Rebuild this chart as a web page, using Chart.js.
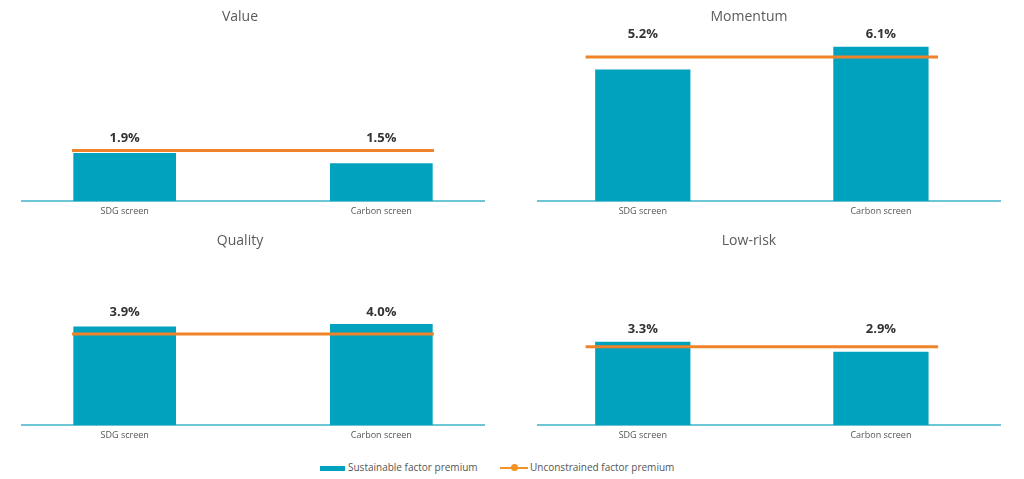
<!DOCTYPE html>
<html>
<head>
<meta charset="utf-8">
<script src="https://cdn.jsdelivr.net/npm/chart.js@4.4.1/dist/chart.umd.min.js"></script>
<style>
  body { margin: 0; background: #fff; font-family: "Open Sans", sans-serif; }
  #wrap { position: relative; width: 1024px; height: 479px; overflow: hidden; }
  .panel { position: absolute; width: 512px; height: 224px; }
  #legend { position: absolute; top: 459px; left: 0; width: 1024px; font-size: 10px; color: #555; }
  .item { position: absolute; top: 0; line-height: 16px; white-space: nowrap; }
  .swatch { display: inline-block; vertical-align: middle; }
</style>
</head>
<body>
<div id="wrap">
  <div class="panel" style="left:0;top:0"><canvas id="c0" width="512" height="224"></canvas></div>
  <div class="panel" style="left:512px;top:0"><canvas id="c1" width="512" height="224"></canvas></div>
  <div class="panel" style="left:0;top:224px"><canvas id="c2" width="512" height="224"></canvas></div>
  <div class="panel" style="left:512px;top:224px"><canvas id="c3" width="512" height="224"></canvas></div>
  <div id="legend">
    <div class="item" style="left:320px"><span class="swatch" style="width:25px;height:5px;background:#00a2be;margin-right:3px"></span>Sustainable factor premium</div>
    <div class="item" style="left:500px"><span class="swatch" style="position:relative;width:28px;height:2px;background:#f29222;margin-right:2px"><span style="position:absolute;left:11px;top:-3px;width:7px;height:7px;border-radius:50%;background:#f29222"></span></span>Unconstrained factor premium</div>
  </div>
</div>
<script>
// data (%)
const panelTitles = ['Value', 'Momentum', 'Quality', 'Low-risk'];
const categories = ['SDG screen', 'Carbon screen'];
const sustainablePremium = [[1.9, 1.5], [5.2, 6.1], [3.9, 4.0], [3.3, 2.9]];
const unconstrainedPremium = [2.0, 5.7, 3.6, 3.1];

const teal = '#00a2be';
const orange = '#f0832a';

// layout per column (left / right)
const columns = [
  { padLeft: 22, padRight: 28, xMin: -0.4, xMax: 1.4, lineExt: 0.205, titleShift: -13 },
  { padLeft: 26, padRight: 24, xMin: -0.44, xMax: 1.5, lineExt: 0.24, titleShift: -20 }
];

const panelText = {
  id: 'panelText',
  afterDatasetsDraw(chart, args, opts) {
    const ctx = chart.ctx, area = chart.chartArea;
    const xs = chart.scales.x, ys = chart.scales.y;
    ctx.save();
    ctx.textAlign = 'center';
    ctx.textBaseline = 'middle';
    ctx.fillStyle = '#5a5a5a';
    ctx.font = '14px "Open Sans"';
    ctx.fillText(opts.title, (area.left + area.right) / 2 + opts.titleShift, 17);
    const top = Math.max(...opts.values, opts.line);
    ctx.fillStyle = '#333';
    ctx.font = 'bold 13px "Open Sans"';
    opts.values.forEach((v, i) => {
      ctx.fillText(v.toFixed(1) + '%', xs.getPixelForValue(i), ys.getPixelForValue(top) - 12);
    });
    ctx.restore();
  }
};

panelTitles.forEach((title, p) => {
  const col = columns[p % 2];
  const values = sustainablePremium[p];
  new Chart(document.getElementById('c' + p), {
    type: 'bar',
    data: {
      datasets: [{
        label: 'Sustainable factor premium',
        data: values.map((v, i) => ({ x: i, y: v })),
        backgroundColor: teal,
        categoryPercentage: 1,
        barPercentage: 0.4,
        order: 1
      }, {
        type: 'line',
        label: 'Unconstrained factor premium',
        data: [{ x: -col.lineExt, y: unconstrainedPremium[p] },
               { x: values.length - 1 + col.lineExt, y: unconstrainedPremium[p] }],
        borderColor: orange,
        borderWidth: 3,
        pointRadius: 0,
        order: 0
      }]
    },
    options: {
      responsive: false,
      animation: false,
      layout: { padding: { top: 24, bottom: 2, left: col.padLeft, right: col.padRight } },
      scales: {
        x: {
          type: 'linear',
          offset: false,
          min: col.xMin,
          max: col.xMax,
          grid: { display: false, drawTicks: false },
          border: { color: '#6cc6d6', width: 2 },
          afterBuildTicks: s => { s.ticks = categories.map((c, i) => ({ value: i })); },
          ticks: {
            padding: 5,
            color: '#555',
            font: { family: 'Open Sans', size: 9 },
            callback: v => categories[v]
          }
        },
        y: { display: false, min: 0, max: 7 }
      },
      plugins: {
        legend: { display: false },
        tooltip: { enabled: false },
        panelText: { title: title, titleShift: col.titleShift, values: values, line: unconstrainedPremium[p] }
      }
    },
    plugins: [panelText]
  });
});
</script>
</body>
</html>
